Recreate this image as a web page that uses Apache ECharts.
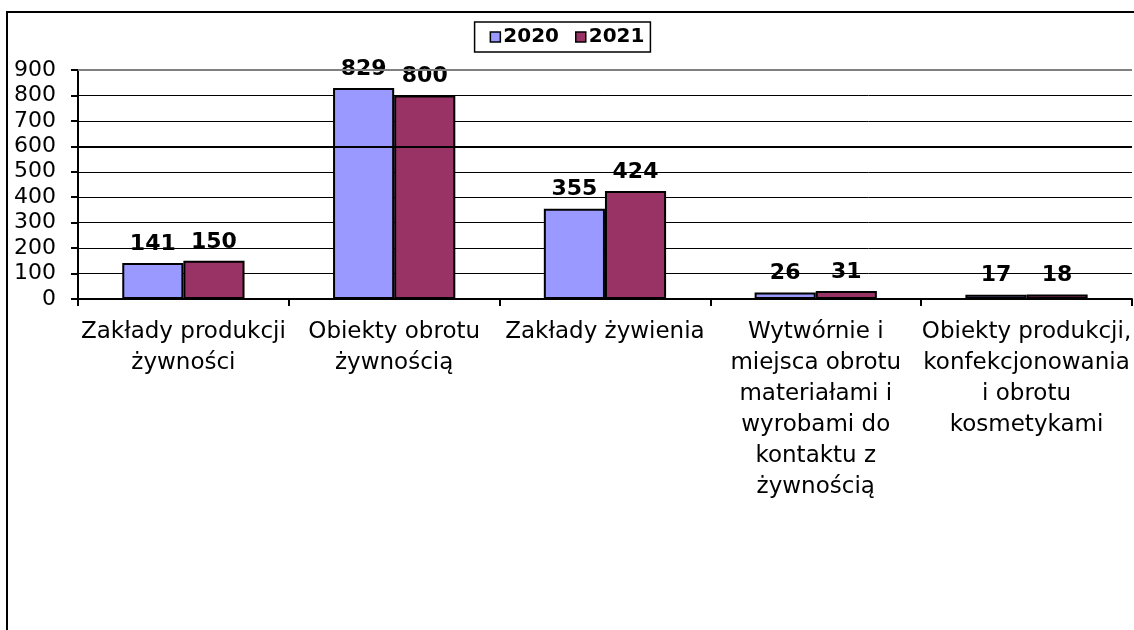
<!DOCTYPE html>
<html>
<head>
<meta charset="utf-8">
<script src="https://cdn.jsdelivr.net/npm/echarts@6/dist/echarts.min.js"></script>
<style>
html,body{margin:0;padding:0;background:#fff;}
#chart{width:1134px;height:630px;}
</style>
</head>
<body>
<div id="chart"></div>
<script>
var categories = [
  'Zakłady produkcji\nżywności',
  'Obiekty obrotu\nżywnością',
  'Zakłady żywienia',
  'Wytwórnie i\nmiejsca obrotu\nmateriałami i\nwyrobami do\nkontaktu z\nżywnością',
  'Obiekty produkcji,\nkonfekcjonowania\ni obrotu\nkosmetykami'
];
var seriesNames = ['2020', '2021'];
var values2020 = [141, 829, 355, 26, 17];
var values2021 = [150, 800, 424, 31, 18];
var yTicks = [0, 100, 200, 300, 400, 500, 600, 700, 800, 900];

var FONT = 'DejaVu Sans';
var chart = echarts.init(document.getElementById('chart'));

function barSeries(name, data, color, extra) {
  var s = {
    name: name,
    type: 'bar',
    data: data,
    barGap: '0%',
    barCategoryGap: '42%',
    itemStyle: { color: color, borderColor: '#000', borderWidth: 2 },
    label: {
      show: true, position: 'top', distance: 8,
      fontFamily: FONT, fontSize: 22, fontWeight: 'bold', color: '#000'
    },
    animation: false
  };
  if (extra) { for (var k in extra) s[k] = extra[k]; }
  return s;
}

var option = {
  backgroundColor: '#fff',
  animation: false,
  graphic: [{
    type: 'rect', silent: true, z: 100,
    shape: { x: 7, y: 12, width: 1300, height: 800 },
    style: { fill: 'none', stroke: '#000', lineWidth: 2 }
  }],
  legend: {
    data: seriesNames,
    top: 22, left: 'center',
    backgroundColor: '#fff',
    borderColor: '#000', borderWidth: 1.5, borderRadius: 0,
    padding: [5, 6, 5, 15],
    itemWidth: 10, itemHeight: 10, itemGap: 16,
    icon: 'rect',
    itemStyle: { borderColor: '#000', borderWidth: 1.5 },
    textStyle: { fontFamily: FONT, fontSize: 20, fontWeight: 'bold', color: '#000', padding: [0, 0, 0, -2] }
  },
  grid: { left: 78, top: 70, right: 0, bottom: 331, containLabel: false },
  xAxis: {
    type: 'category',
    data: categories,
    axisLine: { show: true, lineStyle: { color: '#000', width: 2 } },
    axisTick: { show: true, length: 7, lineStyle: { color: '#000', width: 2 } },
    axisLabel: {
      interval: 0, margin: 18,
      fontFamily: FONT, fontSize: 23, lineHeight: 31, color: '#000', align: 'center'
    }
  },
  yAxis: {
    type: 'value',
    min: yTicks[0], max: yTicks[yTicks.length - 1], interval: 100,
    axisLine: { show: true, lineStyle: { color: '#000', width: 2 } },
    axisTick: { show: true, length: 7, lineStyle: { color: '#000', width: 2 } },
    axisLabel: { margin: 22, fontFamily: FONT, fontSize: 22, color: '#000' },
    splitLine: { show: true, lineStyle: { color: '#000', width: 1 } }
  },
  series: [
    barSeries(seriesNames[0], values2020, '#9999FF', {
      markLine: {
        silent: true, symbol: 'none', label: { show: false }, animation: false,
        data: [
          { yAxis: yTicks[9], lineStyle: { color: '#808080', width: 2, type: 'solid' } },
          { yAxis: yTicks[6], lineStyle: { color: '#000', width: 2, type: 'solid' } }
        ]
      }
    }),
    barSeries(seriesNames[1], values2021, '#993366')
  ]
};
chart.setOption(option);
</script>
</body>
</html>
